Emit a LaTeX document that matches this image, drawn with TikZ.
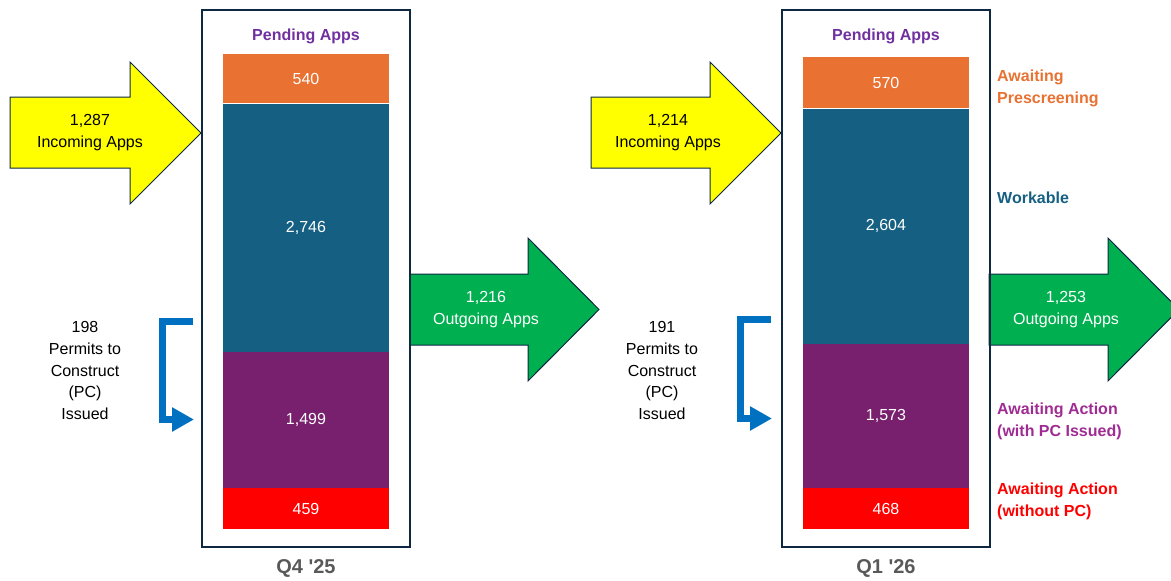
\documentclass[tikz,border=0pt]{standalone}
\usepackage{fontspec}
\setmainfont{Liberation Sans}[Ligatures=TeXOff]
\usetikzlibrary{positioning,arrows.meta}

\definecolor{prescreen}{HTML}{E97132}
\definecolor{workable}{HTML}{156082}
\definecolor{withpc}{HTML}{78206E}
\definecolor{withpclabel}{HTML}{A02B93}
\definecolor{nopc}{HTML}{FF0000}
\definecolor{framecol}{HTML}{0E2841}
\definecolor{titlecol}{HTML}{7030A0}
\definecolor{quartercol}{HTML}{595959}
\definecolor{incoming}{HTML}{FFFF00}
\definecolor{outgoing}{HTML}{00B050}
\definecolor{pcblue}{HTML}{0070C0}

\newcommand\appfont{\fontsize{16}{22}\selectfont}

\tikzset{
  seg/.style={rectangle, inner sep=0pt, minimum width=166pt, text=white, font=\appfont},
  quarterbox/.style={draw=framecol, line width=2.5pt},
  inarrow/.style={fill=incoming, draw=framecol, line width=1pt, line join=miter},
  outarrow/.style={fill=outgoing, draw=framecol, line width=1pt, line join=miter},
  pcarrow/.style={draw=pcblue, line width=7pt, -{Triangle[length=22pt,width=23pt]}},
  txt/.style={align=center, font=\appfont, inner sep=0pt},
  pctxt/.style={align=center, font=\fontsize{16}{21.75}\selectfont, inner sep=0pt},
  title/.style={font=\appfont\bfseries, text=titlecol, inner sep=0pt},
  quarter/.style={font=\fontsize{20}{24}\selectfont\bfseries, text=quartercol, inner sep=0pt},
  side/.style={align=left, anchor=west, font=\appfont\bfseries, inner sep=0pt}
}

\begin{document}
\begin{tikzpicture}[x=1pt,y=-1pt]
\useasboundingbox (0,0) rectangle (1171,581);
\clip (0,0) rectangle (1171,581);

% big flow arrows
\draw[inarrow] (10,97) -- (130,97) -- (130,62) -- (201,133) -- (130,204) -- (130,168) -- (10,168) -- cycle;
\draw[inarrow] (591,97) -- (710,97) -- (710,62) -- (781,133) -- (710,204) -- (710,168) -- (591,168) -- cycle;
\draw[outarrow] (410,274) -- (528,274) -- (528,238) -- (599,309.5) -- (528,381) -- (528,345) -- (410,345) -- cycle;
\draw[outarrow] (989,274) -- (1108,274) -- (1108,238) -- (1179,309.5) -- (1108,381) -- (1108,345) -- (989,345) -- cycle;
\node[txt] (in4) at (90,133) {1,287\\Incoming Apps};
\node[txt] (in1) at (668,133) {1,214\\Incoming Apps};
\node[txt, text=white] (out4) at (486,309.5) {1,216\\Outgoing Apps};
\node[txt, text=white] (out1) at (1066,309.5) {1,253\\Outgoing Apps};

% Q4 '25 stack
\node[seg, fill=prescreen, minimum height=49pt, anchor=north] (pre4) at (306,54) {540};
\node[seg, fill=workable, minimum height=248pt, below=0pt of pre4] (work4) {2,746};
\node[seg, fill=withpc, minimum height=136pt, below=0pt of work4] (act4) {1,499};
\node[seg, fill=nopc, minimum height=41pt, below=0pt of act4] (nopc4) {459};
\draw[quarterbox] (202,10) rectangle (410,547);
\node[title] (pend4) at (306,36) {Pending Apps};
\node[quarter] (q4) at (306,568) {Q4 '25};

% Q1 '26 stack
\node[seg, fill=prescreen, minimum height=51pt, anchor=north] (pre1) at (886,57) {570};
\node[seg, fill=workable, minimum height=235pt, below=0pt of pre1] (work1) {2,604};
\node[seg, fill=withpc, minimum height=144pt, below=0pt of work1] (act1) {1,573};
\node[seg, fill=nopc, minimum height=41pt, below=0pt of act1] (nopc1) {468};
\draw[quarterbox] (782,10) rectangle (990,547);
\node[title] (pend1) at (886,36) {Pending Apps};
\node[quarter] (q1) at (886,568) {Q1 '26};

% permits to construct
\coordinate (pcs4) at (193,321);
\coordinate (pce4) at (194,419.5);
\draw[pcarrow] (pcs4) -- ++(-31,0) |- (pce4);
\node[pctxt] (pc4) at (85,370.5) {198\\Permits to\\Construct\\(PC)\\Issued};
\coordinate (pcs1) at (771,319);
\coordinate (pce1) at (772,418.5);
\draw[pcarrow] (pcs1) -- ++(-31,0) |- (pce1);
\node[pctxt] (pc1) at (662,370.5) {191\\Permits to\\Construct\\(PC)\\Issued};

% legend
\node[side, text=prescreen] (lpre) at (997,88.5) {Awaiting\\Prescreening};
\node[side, text=workable] (lwork) at (997,198) {Workable};
\node[side, text=withpclabel] (lact) at (997,421) {Awaiting Action\\(with PC Issued)};
\node[side, text=nopc] (lnopc) at (997,501.5) {Awaiting Action\\(without PC)};
\end{tikzpicture}
\end{document}
